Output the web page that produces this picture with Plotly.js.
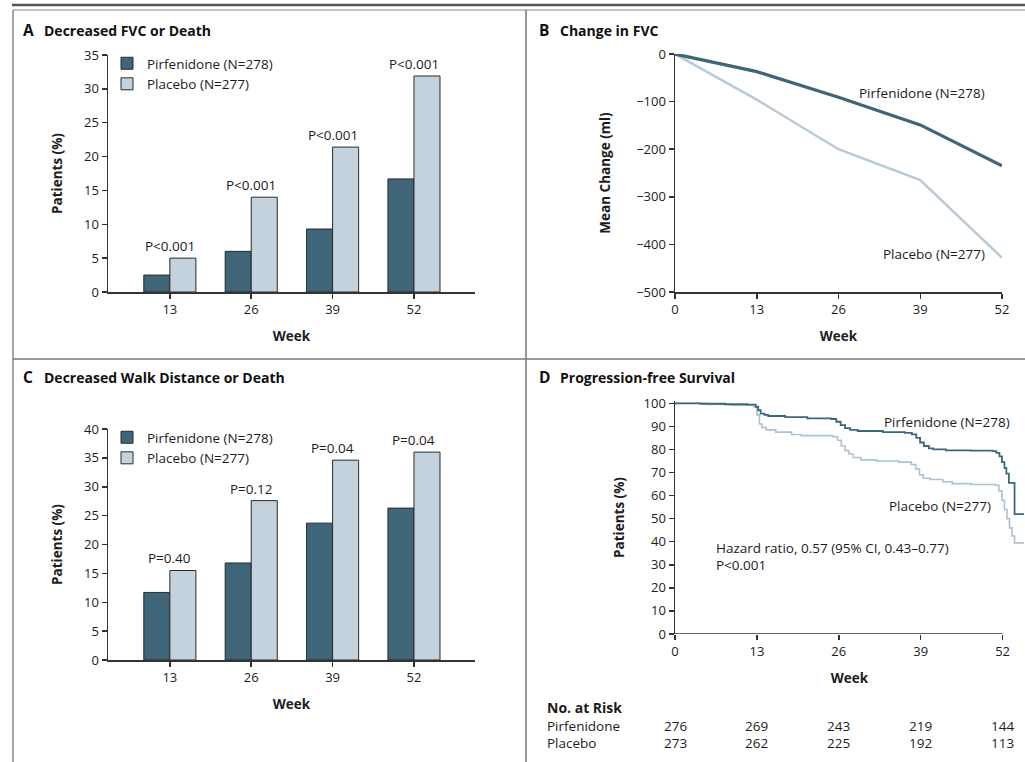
<!DOCTYPE html>
<html>
<head>
<meta charset="utf-8">
<script src="https://cdn.plot.ly/plotly-3.0.1.min.js"></script>
<style>html,body{margin:0;padding:0;background:#fff;}#chart{width:1025px;height:762px;}</style>
</head>
<body>
<div id="chart"></div>
<script>
// ---------- data ----------
var weeksBar = ['13', '26', '39', '52'];
var fvcDeathPirf = [2.5, 6.0, 9.3, 16.7];
var fvcDeathPlac = [5.0, 14.0, 21.4, 31.9];
var fvcDeathP = ['P<0.001', 'P<0.001', 'P<0.001', 'P<0.001'];

var walkPirf = [11.7, 16.8, 23.7, 26.3];
var walkPlac = [15.5, 27.6, 34.6, 36.0];
var walkP = ['P=0.40', 'P=0.12', 'P=0.04', 'P=0.04'];

var fvcWeeks = [0, 13, 26, 39, 52];
var fvcChangePirf = [0, -37, -91, -149, -235];
var fvcChangePlac = [0, -96, -200, -265, -428];

var kmPirfWeeks = [0, 4, 8, 11.5, 12.8, 13.2, 13.6, 14.2, 14.8, 17.5, 21, 24.8, 25.6, 26.3, 27.0, 27.8, 29, 33, 36.5, 37.6, 38.3, 38.9, 39.5, 40.3, 41, 43, 47, 50.4, 51.0, 51.5, 51.9, 52.3, 52.6, 53.0, 53.9, 55.4];
var kmPirfPct = [100, 99.8, 99.6, 99.4, 98.5, 97, 95.5, 95, 94.5, 94, 93.5, 93.2, 92, 90.5, 89.2, 88.5, 88, 87.5, 87.2, 86.5, 85, 83, 81.5, 80.5, 80, 79.6, 79.5, 79.3, 78.5, 77, 74.5, 72, 69.5, 65.5, 52, 52];
var kmPlacWeeks = [0, 5, 9, 12.6, 13.0, 13.4, 13.8, 14.5, 16, 18.5, 20, 25, 25.8, 26.4, 27.0, 27.6, 28.3, 29.5, 32, 35.5, 37.5, 38.2, 38.8, 39.4, 40.5, 42.5, 44, 47, 50.8, 51.4, 51.9, 52.3, 52.7, 53.1, 53.5, 53.9, 55.4];
var kmPlacPct = [100, 99.5, 99.2, 98.5, 95, 91, 89.5, 88.5, 87.5, 86.5, 86, 85.5, 84, 81.5, 79.5, 78, 76.5, 75.5, 75, 74.5, 73.5, 71.5, 69, 67.5, 67, 66, 65.2, 64.8, 64.5, 62, 58, 54, 50, 46, 42.5, 39.5, 39.5];

var riskWeeks = [0, 13, 26, 39, 52];
var riskPirf = [276, 269, 243, 219, 144];
var riskPlac = [273, 262, 225, 192, 113];

// ---------- style ----------
var FONT = 'Open Sans, Noto Sans, sans-serif';
var TXT = '#1c1c1c';
var DARK = '#3e6578';
var LIGHT = '#c3d2dc';
var KMDARK = '#3d687b';
var KMLIGHT = '#aac3cf';
var W = 1025, H = 762;
var TICK = 13, LAB = 13.5;
function px(x) { return x / W; }
function py(y) { return 1 - y / H; }

var traces = [
  {type: 'bar', x: weeksBar, y: fvcDeathPirf, name: 'Pirfenidone (N=278)', xaxis: 'x', yaxis: 'y', legend: 'legend',
   marker: {color: DARK, line: {color: '#2a2a2a', width: 1}}},
  {type: 'bar', x: weeksBar, y: fvcDeathPlac, name: 'Placebo (N=277)', xaxis: 'x', yaxis: 'y', legend: 'legend',
   marker: {color: LIGHT, line: {color: '#2a2a2a', width: 1}}},
  {type: 'bar', x: weeksBar, y: walkPirf, name: 'Pirfenidone (N=278)', xaxis: 'x3', yaxis: 'y3', legend: 'legend2',
   marker: {color: DARK, line: {color: '#2a2a2a', width: 1}}},
  {type: 'bar', x: weeksBar, y: walkPlac, name: 'Placebo (N=277)', xaxis: 'x3', yaxis: 'y3', legend: 'legend2',
   marker: {color: LIGHT, line: {color: '#2a2a2a', width: 1}}},
  {type: 'scatter', mode: 'lines', x: fvcWeeks, y: fvcChangePlac, xaxis: 'x2', yaxis: 'y2', showlegend: false,
   line: {color: '#b8cad5', width: 2.5}},
  {type: 'scatter', mode: 'lines', x: fvcWeeks, y: fvcChangePirf, xaxis: 'x2', yaxis: 'y2', showlegend: false,
   line: {color: DARK, width: 3.2}},
  {type: 'scatter', mode: 'lines', x: kmPlacWeeks, y: kmPlacPct, xaxis: 'x4', yaxis: 'y4', showlegend: false,
   line: {color: KMLIGHT, width: 1.6, shape: 'hv'}},
  {type: 'scatter', mode: 'lines', x: kmPirfWeeks, y: kmPirfPct, xaxis: 'x4', yaxis: 'y4', showlegend: false,
   line: {color: KMDARK, width: 1.8, shape: 'hv'}}
];

function axisBase(extra) {
  var a = {
    showgrid: false, zeroline: false, showline: true, linecolor: '#333', linewidth: 1.5,
    ticks: 'outside', ticklen: 5, tickwidth: 1.5, tickcolor: '#333',
    tickfont: {family: FONT, size: TICK, color: TXT}, fixedrange: true
  };
  for (var k in extra) a[k] = extra[k];
  return a;
}
function axTitle(t, standoff) {
  return {text: '<b>' + t + '</b>', font: {family: FONT, size: 13.5, color: TXT}, standoff: standoff};
}

var annotations = [];
function addP(labels, vals, xref, yref) {
  for (var i = 0; i < labels.length; i++) {
    annotations.push({xref: xref, yref: yref, x: i, y: vals[i], text: labels[i], showarrow: false,
      yanchor: 'bottom', yshift: 1, font: {family: FONT, size: LAB, color: TXT}});
  }
}
addP(fvcDeathP, fvcDeathPlac, 'x', 'y');
addP(walkP, walkPlac, 'x3', 'y3');

function panelTitle(letter, title, xl, xt, y) {
  annotations.push({xref: 'paper', yref: 'paper', x: px(xl), y: py(y), xanchor: 'left', yanchor: 'middle',
    text: '<b>' + letter + '</b>', showarrow: false, font: {family: FONT, size: 15.5, color: '#111'}});
  annotations.push({xref: 'paper', yref: 'paper', x: px(xt), y: py(y), xanchor: 'left', yanchor: 'middle',
    text: '<b>' + title + '</b>', showarrow: false, font: {family: FONT, size: 14, color: '#111'}});
}
panelTitle('A', 'Decreased FVC or Death', 21, 42, 30);
panelTitle('B', 'Change in FVC', 537, 558, 30);
panelTitle('C', 'Decreased Walk Distance or Death', 21, 42, 377);
panelTitle('D', 'Progression-free Survival', 537, 558, 377);

function paperText(t, x, y, anchor, size) {
  annotations.push({xref: 'paper', yref: 'paper', x: px(x), y: py(y), xanchor: anchor || 'left', yanchor: 'middle',
    text: t, showarrow: false, font: {family: FONT, size: size || LAB, color: TXT}});
}
paperText('Pirfenidone (N=278)', 987, 93, 'right');
paperText('Placebo (N=277)', 987, 254, 'right');
paperText('Pirfenidone (N=278)', 1012, 422, 'right');
paperText('Placebo (N=277)', 993, 506, 'right');
paperText('Hazard ratio, 0.57 (95% CI, 0.43–0.77)', 714, 548, 'left');
paperText('P<0.001', 714, 565, 'left');
paperText('<b>No. at Risk</b>', 545, 707, 'left', 14);
paperText('Pirfenidone', 545, 726, 'left');
paperText('Placebo', 545, 743, 'left');
for (var i = 0; i < riskWeeks.length; i++) {
  annotations.push({xref: 'x4', yref: 'paper', x: riskWeeks[i], y: py(726), text: String(riskPirf[i]), showarrow: false,
    xanchor: 'center', yanchor: 'middle', font: {family: FONT, size: LAB, color: TXT}});
  annotations.push({xref: 'x4', yref: 'paper', x: riskWeeks[i], y: py(743), text: String(riskPlac[i]), showarrow: false,
    xanchor: 'center', yanchor: 'middle', font: {family: FONT, size: LAB, color: TXT}});
}

var shapes = [
  {type: 'line', xref: 'paper', yref: 'paper', x0: px(12), x1: 1, y0: py(5), y1: py(5), line: {color: '#555', width: 2.5}},
  {type: 'line', xref: 'paper', yref: 'paper', x0: px(13), x1: 1, y0: py(10), y1: py(10), line: {color: '#888', width: 1.2}},
  {type: 'line', xref: 'paper', yref: 'paper', x0: px(13), x1: px(13), y0: py(10), y1: 0, line: {color: '#888', width: 1.5}},
  {type: 'line', xref: 'paper', yref: 'paper', x0: px(526), x1: px(526), y0: py(10), y1: 0, line: {color: '#777', width: 1.5}},
  {type: 'line', xref: 'paper', yref: 'paper', x0: px(13), x1: 1, y0: py(359), y1: py(359), line: {color: '#777', width: 1.5}},
  {type: 'line', xref: 'x4', yref: 'y4', x0: 0, x1: 52, y0: 0, y1: 0, line: {color: '#333', width: 1.5}}
];

var legendBase = {
  xanchor: 'left', yanchor: 'top', bgcolor: 'rgba(0,0,0,0)', borderwidth: 0,
  font: {family: FONT, size: LAB, color: TXT}, itemwidth: 30, tracegroupgap: 0, traceorder: 'normal',
  itemclick: false, itemdoubleclick: false
};
function leg(x, y) { var l = {}; for (var k in legendBase) l[k] = legendBase[k]; l.x = px(x); l.y = py(y); return l; }

var layout = {
  width: W, height: H, margin: {l: 0, r: 0, t: 0, b: 0}, paper_bgcolor: '#fff', plot_bgcolor: 'rgba(0,0,0,0)',
  font: {family: FONT, color: TXT},
  barmode: 'group', bargap: 0.36, bargroupgap: 0,
  legend: leg(107, 48), legend2: leg(107, 422),
  xaxis: axisBase({domain: [px(108), px(475)], anchor: 'y', type: 'category', range: [-0.76, 3.75], title: axTitle('Week', 14)}),
  yaxis: axisBase({domain: [py(292), py(55)], anchor: 'x', range: [0, 35], dtick: 5, title: axTitle('Patients (%)', 18)}),
  xaxis2: axisBase({domain: [px(675), px(1002)], anchor: 'y2', range: [0, 52], tickvals: fvcWeeks, title: axTitle('Week', 14)}),
  yaxis2: axisBase({domain: [py(292), py(54)], anchor: 'x2', range: [-500, 0], dtick: 100, title: axTitle('Mean Change (ml)', 22)}),
  xaxis3: axisBase({domain: [px(108), px(475)], anchor: 'y3', type: 'category', range: [-0.76, 3.75], title: axTitle('Week', 14)}),
  yaxis3: axisBase({domain: [py(660), py(429)], anchor: 'x3', range: [0, 40], dtick: 5, title: axTitle('Patients (%)', 18)}),
  xaxis4: axisBase({domain: [px(675), px(1024)], anchor: 'y4', range: [0, 55.4], tickvals: riskWeeks, showline: false, title: axTitle('Week', 14)}),
  yaxis4: axisBase({domain: [py(634), py(401)], anchor: 'x4', range: [0, 101], tickvals: [0,10,20,30,40,50,60,70,80,90,100], title: axTitle('Patients (%)', 16)}),
  annotations: annotations,
  shapes: shapes
};

Plotly.newPlot('chart', traces, layout, {displayModeBar: false, staticPlot: true});
</script>
</body>
</html>
